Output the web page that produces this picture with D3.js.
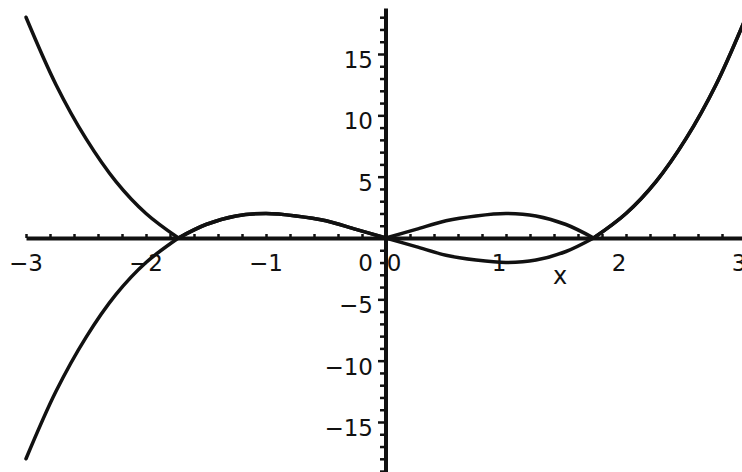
<!DOCTYPE html>
<html>
<head>
<meta charset="utf-8">
<script src="https://cdn.jsdelivr.net/npm/d3@7"></script>
<style>
  body { margin: 0; background: #fff; }
  svg { display: block; }
  text { font-family: "DejaVu Sans", sans-serif; fill: #111; }
</style>
</head>
<body>
<svg width="742" height="472"></svg>
<script>
var svg = d3.select("svg"),
  width = +svg.attr("width"),
  height = +svg.attr("height");

// values
var xs = [-3, -2.75, -2.5, -2.25, -2, -1.73, -1.5, -1.25, -1, -0.75, -0.5, -0.25, 0,
  0.25, 0.5, 0.75, 1, 1.25, 1.5, 1.73, 2, 2.25, 2.5, 2.75, 3];
var curveA = [-18, -12.5, -8.1, -4.6, -2, 0, 1.1, 1.8, 2, 1.8, 1.4, 0.7, 0,
  -0.7, -1.4, -1.8, -2, -1.8, -1.1, 0, 2, 4.6, 8.1, 12.5, 18];
var curveB = [18, 12.5, 8.1, 4.6, 2, 0, 1.1, 1.8, 2, 1.8, 1.4, 0.7, 0,
  0.7, 1.4, 1.8, 2, 1.8, 1.1, 0, 2, 4.6, 8.1, 12.5, 18];
var xLabels = [-3, -2, -1, 0, 1, 2, 3];
var yLabels = [-15, -10, -5, 0, 5, 10, 15];

var x = d3.scaleLinear().domain([-3, 3]).range([26, 746]);
var y = d3.scaleLinear().domain([-15, 15]).range([422, 54]);

// x axis: thick line with small ticks every 0.2
var xTicks = d3.range(-15, 16).map(function (i) { return i / 5; });
var xAxis = svg.append("g")
  .attr("transform", "translate(0," + y(0) + ")")
  .call(d3.axisTop(x).tickValues(xTicks).tickSize(4).tickSizeOuter(0).tickFormat(""));
xAxis.select(".domain").attr("stroke", "#111").attr("stroke-width", 4);
xAxis.selectAll(".tick line").attr("stroke", "#111").attr("stroke-width", 2.5);

// y axis: thick line with ticks every unit
var yTicks = d3.range(-19, 19);
var yAxis = svg.append("g")
  .attr("transform", "translate(" + x(0) + ",0)")
  .call(d3.axisLeft(y).tickValues(yTicks).tickSizeOuter(0).tickFormat("")
    .tickSize(6));
yAxis.select(".domain")
  .attr("d", "M0," + y(18.7) + "V" + y(-19.5))
  .attr("stroke", "#111").attr("stroke-width", 4);
yAxis.selectAll(".tick line")
  .attr("stroke", "#111").attr("stroke-width", 2.5)
  .attr("x2", function (d) { return d % 5 === 0 ? -8 : -6; });

// curves, split where they touch zero so the corners stay sharp
var line = d3.line()
  .x(function (d) { return x(d[0]); })
  .y(function (d) { return y(d[1]); })
  .curve(d3.curveCatmullRom.alpha(0.5));

function pieces(vals) {
  var pts = xs.map(function (v, i) { return [v, vals[i]]; });
  var out = [], cur = [];
  pts.forEach(function (p, i) {
    cur.push(p);
    if (p[1] === 0 && i > 0 && i < pts.length - 1) {
      out.push(cur);
      cur = [p];
    }
  });
  out.push(cur);
  return out;
}

[curveA, curveB].forEach(function (vals) {
  svg.append("g").selectAll("path")
    .data(pieces(vals))
    .enter().append("path")
    .attr("fill", "none")
    .attr("stroke", "#111")
    .attr("stroke-width", 3.5)
    .attr("stroke-linejoin", "round")
    .attr("stroke-linecap", "round")
    .attr("d", line);
});

// x tick labels
svg.append("g").selectAll("text")
  .data(xLabels)
  .enter().append("text")
  .attr("x", function (d) { return x(d) + (d < 0 ? 0 : (d === 0 ? 8 : -7)); })
  .attr("y", y(0) + 33)
  .attr("text-anchor", "middle")
  .style("font-size", "23px")
  .text(function (d) { return d < 0 ? "\u2212" + Math.abs(d) : d; });

// y tick labels
svg.append("g").selectAll("text")
  .data(yLabels)
  .enter().append("text")
  .attr("x", x(0) - 13)
  .attr("y", function (d) { return d === 0 ? y(0) + 33 : y(d) + 14; })
  .attr("text-anchor", "end")
  .style("font-size", "23px")
  .text(function (d) { return d < 0 ? "\u2212" + Math.abs(d) : d; });

svg.append("text")
  .attr("x", 560)
  .attr("y", 284)
  .attr("text-anchor", "middle")
  .style("font-size", "24px")
  .text("x");
</script>
</body>
</html>
